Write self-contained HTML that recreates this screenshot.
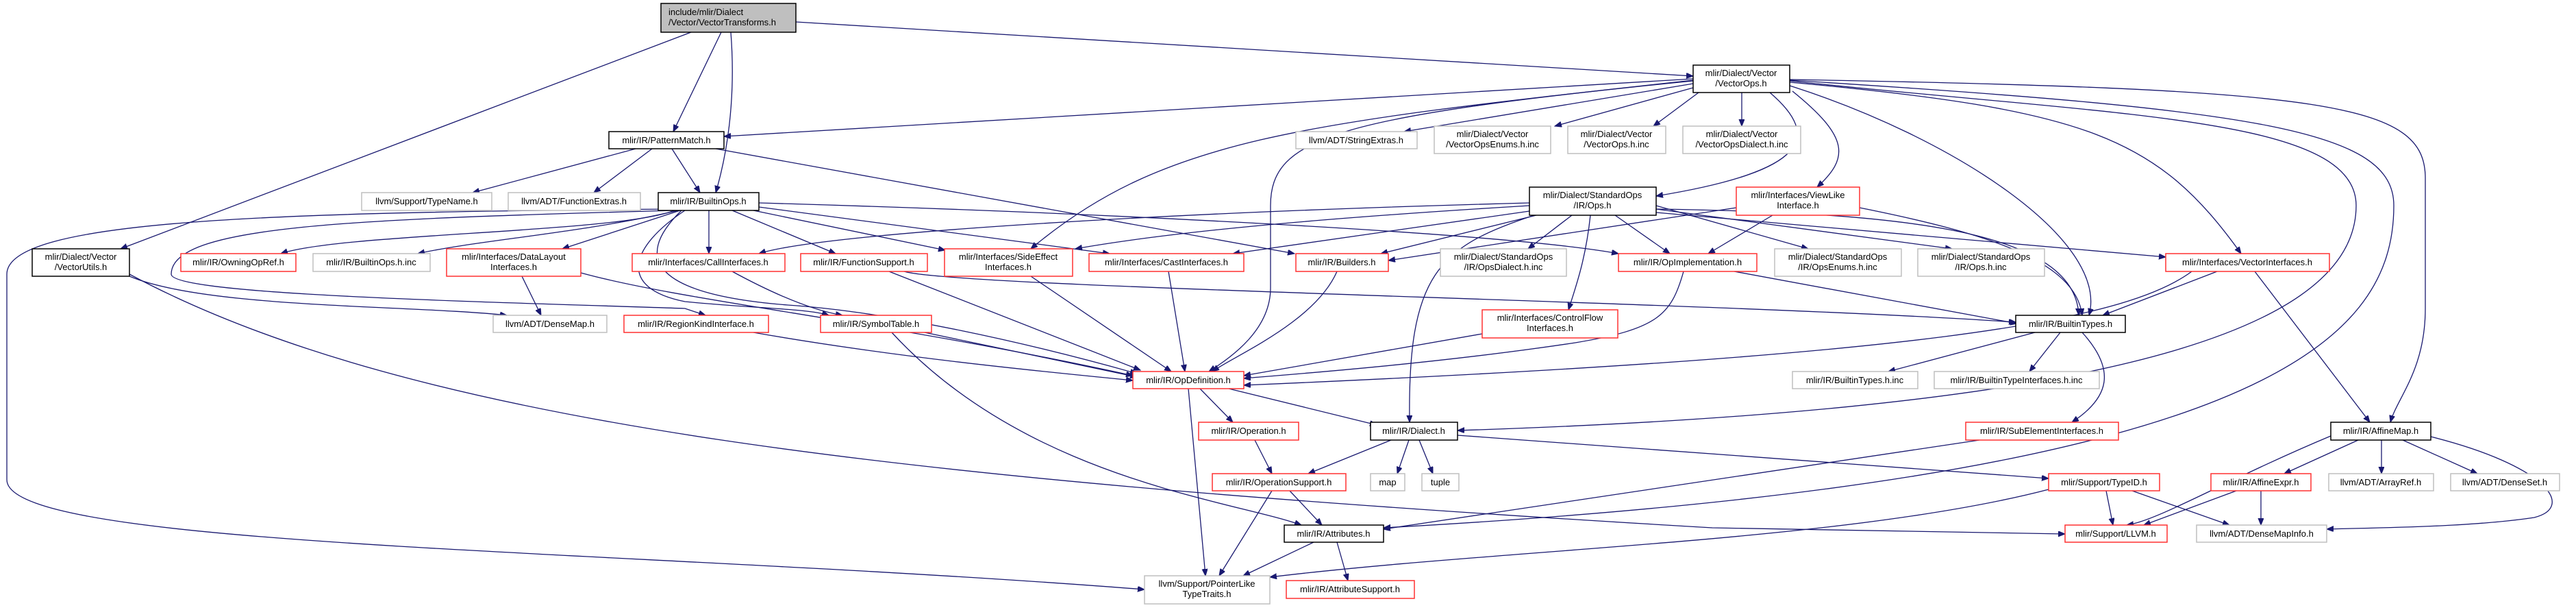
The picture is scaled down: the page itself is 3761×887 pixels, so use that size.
<!DOCTYPE html>
<html><head><meta charset="utf-8"><style>
html,body{margin:0;padding:0;background:#fff;}
svg{display:block;}
text{font-family:"Liberation Sans",sans-serif;font-size:13px;fill:#000;text-anchor:middle;}
.g{fill:#fff;stroke:#bfbfbf;stroke-width:1.5}
.r{fill:#fff;stroke:#ff3030;stroke-width:1.5}
.b{fill:#fff;stroke:#000;stroke-width:1.5}
.e path{fill:none;stroke:#191970;stroke-width:1.3;marker-end:url(#a)}
</style></head><body>
<svg width="3761" height="887" viewBox="0 0 3761 887" xmlns="http://www.w3.org/2000/svg">
<defs><marker id="a" markerUnits="userSpaceOnUse" markerWidth="11" markerHeight="9" refX="10" refY="4" orient="auto"><path d="M0,0 L10,4 L0,8 z" fill="#191970" stroke="#191970"/></marker></defs>
<g class="e">
<path d="M1009,47 L176,363"/>
<path d="M1053,47 L983,192"/>
<path d="M1067,47 C1075,150 1060,230 1045,281"/>
<path d="M1162,32 L2472,111"/>
<path d="M2472,115 L1057,199"/>
<path d="M2472,122 L2050,192"/>
<path d="M2472,128 L2270,184"/>
<path d="M2480,135 L2414,184"/>
<path d="M2543,135 L2543,184"/>
<path d="M2584,135 C2660,200 2640,250 2418,286"/>
<path d="M2617,133 C2700,200 2700,230 2653,273"/>
<path d="M2472,118 C1950,170 1855,200 1855,300 L1855,420 C1855,480 1800,520 1765,542"/>
<path d="M2472,117 C1900,180 1700,200 1505,363"/>
<path d="M2613,125 C2850,200 3080,350 3050,460"/>
<path d="M2613,120 C3050,160 3150,200 3272,370"/>
<path d="M2613,118 C3100,170 3440,170 3440,300 C3440,500 3000,600 2128,628"/>
<path d="M2613,117 C3300,160 3495,190 3495,300 C3495,500 3300,700 2020,770"/>
<path d="M2613,116 C3400,130 3541,150 3541,260 L3541,450 C3541,540 3500,580 3490,616"/>
<path d="M2233,296 C1700,310 1200,340 1108,370"/>
<path d="M2233,300 C1900,320 1700,340 1570,363"/>
<path d="M2233,308 L1800,370"/>
<path d="M2243,314 L2016,370"/>
<path d="M2295,314 L2231,363"/>
<path d="M2322,314 C2315,380 2300,420 2290,452"/>
<path d="M2240,314 C2100,360 2055,400 2058,616"/>
<path d="M2358,314 L2438,370"/>
<path d="M2418,300 L2640,363"/>
<path d="M2418,305 L2850,363"/>
<path d="M2418,310 L3162,375"/>
<path d="M2418,305 C2750,310 3030,330 3035,460"/>
<path d="M2588,314 L2494,370"/>
<path d="M2715,303 C2900,340 3030,380 3040,460"/>
<path d="M2535,303 L2027,380"/>
<path d="M2458,396 C2440,460 2420,480 2300,500 C2100,530 1900,545 1816,552"/>
<path d="M2532,396 L2945,472"/>
<path d="M985,307 C900,340 500,340 410,370"/>
<path d="M990,307 C850,340 700,350 610,370"/>
<path d="M993,307 L821,363"/>
<path d="M1035,307 L1035,370"/>
<path d="M1069,307 L1220,370"/>
<path d="M1108,296 C1600,310 2200,340 2363,370"/>
<path d="M1108,302 L1620,370"/>
<path d="M1100,307 L1380,365"/>
<path d="M1045,217 L1890,370"/>
<path d="M1000,307 C920,360 900,420 1000,440 C1100,450 1180,450 1210,460"/>
<path d="M985,307 C500,320 250,330 250,400 C250,430 700,440 1000,450 L1030,460"/>
<path d="M980,305 C400,310 10,320 10,400 L10,700 C10,800 900,800 1671,860"/>
<path d="M995,307 C920,380 960,430 1150,445 C1300,455 1500,500 1660,545"/>
<path d="M762,403 L790,460"/>
<path d="M189,403 C300,450 600,445 740,460"/>
<path d="M189,400 C600,620 1300,700 2500,770 L3015,779"/>
<path d="M848,398 C1000,440 1300,470 1654,548"/>
<path d="M1298,396 L1665,540"/>
<path d="M1069,396 C1150,440 1200,455 1230,460"/>
<path d="M1320,396 C1400,420 2500,440 2943,470"/>
<path d="M1505,403 L1710,542"/>
<path d="M1706,396 L1730,542"/>
<path d="M1952,396 C1920,470 1800,520 1770,542"/>
<path d="M1350,485 L1660,550"/>
<path d="M1302,485 C1500,700 1800,730 1900,766"/>
<path d="M1100,485 C1300,520 1500,540 1654,555"/>
<path d="M2164,487 L1816,548"/>
<path d="M3200,396 C3100,470 2800,520 1816,562"/>
<path d="M3237,396 L3070,460"/>
<path d="M3292,396 L3460,616"/>
<path d="M1752,567 L1800,616"/>
<path d="M1794,567 L2010,620"/>
<path d="M1735,567 L1760,840"/>
<path d="M1832,642 L1857,691"/>
<path d="M2031,642 L1910,691"/>
<path d="M2057,642 L2040,691"/>
<path d="M2072,642 L2092,691"/>
<path d="M2128,635 L2991,698"/>
<path d="M1883,716 L1930,766"/>
<path d="M1857,716 L1780,840"/>
<path d="M1918,791 L1815,840"/>
<path d="M1952,791 L1968,847"/>
<path d="M2890,642 L2020,772"/>
<path d="M2971,485 L2757,542"/>
<path d="M3008,485 L2963,542"/>
<path d="M3040,485 C3090,540 3080,580 3025,616"/>
<path d="M3075,716 L3085,766"/>
<path d="M3113,716 L3255,766"/>
<path d="M2991,714 C2700,790 2200,800 1854,842"/>
<path d="M3403,636 C3250,700 3150,760 3105,766"/>
<path d="M3443,642 L3335,691"/>
<path d="M3477,642 L3477,691"/>
<path d="M3508,642 L3617,691"/>
<path d="M3549,637 C3720,680 3760,740 3700,755 C3600,770 3450,770 3397,772"/>
<path d="M3265,716 L3130,766"/>
<path d="M3301,716 L3301,766"/>
<path d="M928,217 L690,281"/>
<path d="M952,217 L867,281"/>
<path d="M981,217 L1022,281"/>
</g>
<g>
<rect x="965" y="5" width="197" height="42" fill="#bfbfbf" stroke="#000" stroke-width="1.5"/>
<text x="976" y="22" style="text-anchor:start">include/mlir/Dialect</text><text x="976" y="37" style="text-anchor:start">/Vector/VectorTransforms.h</text>

<rect class="b" x="889" y="192" width="168" height="25"/><text x="973" y="209">mlir/IR/PatternMatch.h</text>
<rect class="g" x="528" y="281" width="190" height="26"/><text x="623" y="298">llvm/Support/TypeName.h</text>
<rect class="g" x="742" y="281" width="193" height="26"/><text x="838" y="298">llvm/ADT/FunctionExtras.h</text>
<rect class="b" x="961" y="281" width="147" height="26"/><text x="1034" y="298">mlir/IR/BuiltinOps.h</text>
<rect class="b" x="47" y="363" width="142" height="40"/><text x="118" y="379">mlir/Dialect/Vector</text><text x="118" y="394">/VectorUtils.h</text>
<rect class="r" x="264" y="370" width="168" height="26"/><text x="348" y="387">mlir/IR/OwningOpRef.h</text>
<rect class="g" x="457" y="370" width="171" height="26"/><text x="542" y="387">mlir/IR/BuiltinOps.h.inc</text>
<rect class="r" x="652" y="363" width="196" height="40"/><text x="750" y="379">mlir/Interfaces/DataLayout</text><text x="750" y="394">Interfaces.h</text>
<rect class="r" x="923" y="370" width="223" height="26"/><text x="1034" y="387">mlir/Interfaces/CallInterfaces.h</text>
<rect class="r" x="1169" y="370" width="185" height="26"/><text x="1261" y="387">mlir/IR/FunctionSupport.h</text>
<rect class="r" x="1379" y="363" width="187" height="40"/><text x="1472" y="379">mlir/Interfaces/SideEffect</text><text x="1472" y="394">Interfaces.h</text>
<rect class="r" x="1590" y="370" width="226" height="26"/><text x="1703" y="387">mlir/Interfaces/CastInterfaces.h</text>
<rect class="r" x="1892" y="370" width="135" height="26"/><text x="1959" y="387">mlir/IR/Builders.h</text>
<rect class="g" x="2103" y="363" width="184" height="40"/><text x="2195" y="379">mlir/Dialect/StandardOps</text><text x="2195" y="394">/IR/OpsDialect.h.inc</text>
<rect class="r" x="2363" y="370" width="202" height="26"/><text x="2464" y="387">mlir/IR/OpImplementation.h</text>
<rect class="g" x="2591" y="363" width="185" height="40"/><text x="2683" y="379">mlir/Dialect/StandardOps</text><text x="2683" y="394">/IR/OpsEnums.h.inc</text>
<rect class="g" x="2800" y="363" width="185" height="40"/><text x="2892" y="379">mlir/Dialect/StandardOps</text><text x="2892" y="394">/IR/Ops.h.inc</text>
<rect class="r" x="3162" y="370" width="239" height="26"/><text x="3281" y="387">mlir/Interfaces/VectorInterfaces.h</text>
<rect class="b" x="2472" y="95" width="141" height="40"/><text x="2542" y="111">mlir/Dialect/Vector</text><text x="2542" y="126">/VectorOps.h</text>
<rect class="g" x="1892" y="192" width="177" height="25"/><text x="1980" y="209">llvm/ADT/StringExtras.h</text>
<rect class="g" x="2094" y="184" width="170" height="40"/><text x="2179" y="200">mlir/Dialect/Vector</text><text x="2179" y="215">/VectorOpsEnums.h.inc</text>
<rect class="g" x="2289" y="184" width="143" height="40"/><text x="2360" y="200">mlir/Dialect/Vector</text><text x="2360" y="215">/VectorOps.h.inc</text>
<rect class="g" x="2457" y="184" width="172" height="40"/><text x="2543" y="200">mlir/Dialect/Vector</text><text x="2543" y="215">/VectorOpsDialect.h.inc</text>
<rect class="b" x="2233" y="273" width="185" height="41"/><text x="2325" y="289">mlir/Dialect/StandardOps</text><text x="2325" y="304">/IR/Ops.h</text>
<rect class="r" x="2535" y="273" width="180" height="41"/><text x="2625" y="289">mlir/Interfaces/ViewLike</text><text x="2625" y="304">Interface.h</text>
<rect class="g" x="720" y="460" width="166" height="25"/><text x="803" y="477">llvm/ADT/DenseMap.h</text>
<rect class="r" x="911" y="460" width="211" height="25"/><text x="1016" y="477">mlir/IR/RegionKindInterface.h</text>
<rect class="r" x="1198" y="460" width="162" height="25"/><text x="1279" y="477">mlir/IR/SymbolTable.h</text>
<rect class="r" x="2164" y="452" width="198" height="41"/><text x="2263" y="468">mlir/Interfaces/ControlFlow</text><text x="2263" y="483">Interfaces.h</text>
<rect class="b" x="2943" y="460" width="160" height="25"/><text x="3023" y="477">mlir/IR/BuiltinTypes.h</text>
<rect class="r" x="1654" y="542" width="162" height="25"/><text x="1735" y="559">mlir/IR/OpDefinition.h</text>
<rect class="g" x="2617" y="542" width="183" height="25"/><text x="2708" y="559">mlir/IR/BuiltinTypes.h.inc</text>
<rect class="g" x="2824" y="542" width="241" height="25"/><text x="2944" y="559">mlir/IR/BuiltinTypeInterfaces.h.inc</text>
<rect class="r" x="1750" y="616" width="146" height="26"/><text x="1823" y="633">mlir/IR/Operation.h</text>
<rect class="b" x="2001" y="616" width="127" height="26"/><text x="2064" y="633">mlir/IR/Dialect.h</text>
<rect class="r" x="2870" y="616" width="223" height="26"/><text x="2981" y="633">mlir/IR/SubElementInterfaces.h</text>
<rect class="b" x="3403" y="616" width="146" height="26"/><text x="3476" y="633">mlir/IR/AffineMap.h</text>
<rect class="r" x="1770" y="691" width="195" height="25"/><text x="1867" y="708">mlir/IR/OperationSupport.h</text>
<rect class="g" x="2001" y="691" width="50" height="25"/><text x="2026" y="708">map</text>
<rect class="g" x="2076" y="691" width="54" height="25"/><text x="2103" y="708">tuple</text>
<rect class="r" x="2991" y="691" width="162" height="25"/><text x="3072" y="708">mlir/Support/TypeID.h</text>
<rect class="r" x="3228" y="691" width="146" height="25"/><text x="3301" y="708">mlir/IR/AffineExpr.h</text>
<rect class="g" x="3400" y="691" width="153" height="25"/><text x="3476" y="708">llvm/ADT/ArrayRef.h</text>
<rect class="g" x="3578" y="691" width="159" height="25"/><text x="3657" y="708">llvm/ADT/DenseSet.h</text>
<rect class="b" x="1875" y="766" width="145" height="25"/><text x="1947" y="783">mlir/IR/Attributes.h</text>
<rect class="r" x="3015" y="766" width="149" height="25"/><text x="3089" y="783">mlir/Support/LLVM.h</text>
<rect class="g" x="3207" y="766" width="190" height="25"/><text x="3302" y="783">llvm/ADT/DenseMapInfo.h</text>
<rect class="g" x="1671" y="840" width="183" height="41"/><text x="1762" y="856">llvm/Support/PointerLike</text><text x="1762" y="871">TypeTraits.h</text>
<rect class="r" x="1878" y="847" width="187" height="26"/><text x="1971" y="864">mlir/IR/AttributeSupport.h</text>
</g>
</svg>
</body></html>
